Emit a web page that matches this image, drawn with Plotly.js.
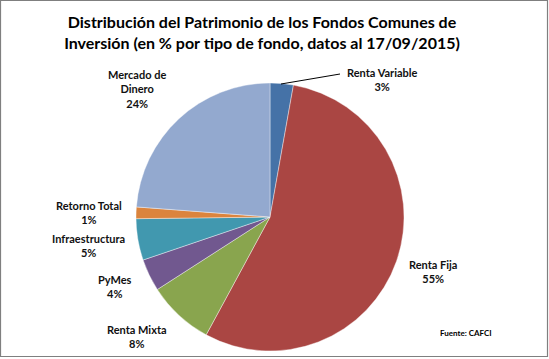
<!DOCTYPE html>
<html>
<head>
<meta charset="utf-8">
<script src="https://cdn.plot.ly/plotly-3.0.1.min.js"></script>
<style>html,body{margin:0;padding:0;background:#fff;}#chart{width:549px;height:359px;}</style>
</head>
<body>
<div id="chart"></div>
<script>
const categories = ["Renta Variable", "Renta Fija", "Renta Mixta", "PyMes", "Infraestructura", "Retorno Total", "Mercado de Dinero"];
const labelText = ["Renta Variable", "Renta Fija", "Renta Mixta", "PyMes", "Infraestructura", "Retorno Total", "Mercado de<br>Dinero"];
const values = [2.8, 55.1, 8.0, 3.9, 5.0, 1.4, 23.8];
const colors = ["#4572A7", "#AA4643", "#89A54E", "#71588F", "#4198AF", "#DB843D", "#93A9CF"];
const titleText = "Distribución del Patrimonio de los Fondos Comunes de<br>Inversión (en % por tipo de fondo, datos al 17/09/2015)";
const sourceText = "Fuente: CAFCI";

const W = 549, H = 359;
const px = x => x / W;
const py = y => 1 - y / H;
// label centre positions in pixels (layout only)
const labelPos = [[382, 80], [433, 271], [137, 336], [115, 286], [88, 245], [89, 212], [137, 89]];

const total = values.reduce((a, b) => a + b, 0);
const font = "Lato, 'Open Sans', sans-serif";
const annotations = categories.map((c, i) => ({
  xref: "paper", yref: "paper",
  x: px(labelPos[i][0]), y: py(labelPos[i][1]),
  xanchor: "center", yanchor: "middle",
  text: labelText[i] + "<br>" + Math.round(values[i] / total * 100) + "%",
  showarrow: false,
  font: {family: font, size: 11, color: "#111", weight: "bold"},
  align: "center"
}));
annotations.push({
  xref: "paper", yref: "paper", x: px(466), y: py(333),
  xanchor: "center", yanchor: "middle", text: sourceText, showarrow: false,
  font: {family: font, size: 8, color: "#000", weight: "bold"}
});

const cx = 270, cy = 217, r = 134;
const data = [{
  type: "pie",
  labels: categories,
  values: values,
  sort: false,
  direction: "clockwise",
  rotation: 0,
  textinfo: "none",
  hoverinfo: "label+percent",
  marker: {colors: colors, line: {color: "#ffffff", width: 0.4}},
  domain: {x: [px(cx - r), px(cx + r)], y: [py(cy + r), py(cy - r)]},
  showlegend: false
}];

const layout = {
  width: W, height: H,
  margin: {l: 0, r: 0, t: 0, b: 0},
  paper_bgcolor: "#ffffff",
  title: {text: titleText, x: px(262), xanchor: "center", y: py(28), yanchor: "middle",
          font: {family: font, size: 16, color: "#000", weight: "bold"}},
  annotations: annotations,
  shapes: [
    {type: "rect", xref: "paper", yref: "paper", x0: px(0.5), x1: px(547.5), y0: py(356.5), y1: py(0.5),
     line: {color: "#7f7f7f", width: 1.2}},
    {type: "line", xref: "paper", yref: "paper", x0: px(281), y0: py(84), x1: px(340), y1: py(74),
     line: {color: "#000", width: 1}}
  ]
};

Plotly.newPlot("chart", data, layout, {displayModeBar: false, staticPlot: true});
</script>
</body>
</html>
